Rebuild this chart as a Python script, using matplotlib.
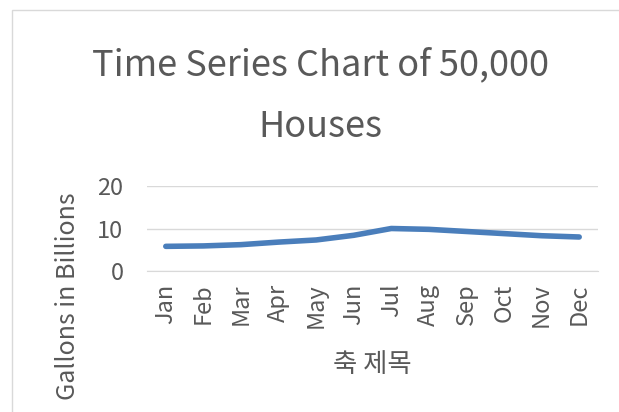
import matplotlib.pyplot as plt
from matplotlib.patches import Rectangle

plt.rcParams['font.family'] = ['Noto Sans CJK KR', 'DejaVu Sans']

months = ["Jan", "Feb", "Mar", "Apr", "May", "Jun",
          "Jul", "Aug", "Sep", "Oct", "Nov", "Dec"]
gallons = [5.8, 5.9, 6.2, 6.8, 7.3, 8.4, 10.0, 9.8, 9.3, 8.8, 8.3, 8.0]
yticks = [0, 10, 20]

text_color = "#595959"
grid_color = "#d9d9d9"
line_color = "#4a7ebb"

fig = plt.figure(figsize=(6.19, 4.12), dpi=100)
W, H = 619, 412

# chart area border (cropped on right / bottom)
fig.patches.append(Rectangle((12 / W, -0.1), 1.2, 1 - 10 / H + 0.1,
                             transform=fig.transFigure, fill=False,
                             edgecolor="#d9d9d9", linewidth=1))

ax = fig.add_axes([147 / W, 1 - 271 / H, (598 - 147) / W, (271 - 186) / H])
x = list(range(len(months)))
ax.plot(x, gallons, color=line_color, linewidth=4, solid_capstyle="round",
        solid_joinstyle="round", zorder=3)

ax.set_xlim(-0.5, len(months) - 0.5)
ax.set_ylim(0, 20)
ax.set_yticks(yticks)
ax.set_xticks(x)
ax.set_xticklabels(months, rotation=90)
ax.tick_params(axis="both", length=0, labelsize=17, colors=text_color)
ax.tick_params(axis="y", pad=17)
ax.tick_params(axis="x", pad=9)
ax.grid(axis="y", color=grid_color, linewidth=1)
ax.set_axisbelow(True)
for s in ["top", "right", "left"]:
    ax.spines[s].set_visible(False)
ax.spines["bottom"].set_color(grid_color)

fig.text(320 / W, 1 - 65 / H, "Time Series Chart of 50,000", ha="center",
         va="center", fontsize=26, color=text_color, fontweight="light")
fig.text(320 / W, 1 - 127 / H, "Houses", ha="center", va="center",
         fontsize=26, color=text_color, fontweight="light")
fig.text(68 / W, 1 - 296 / H, "Gallons in Billions", rotation=90,
         ha="center", va="center", fontsize=18, color=text_color)
fig.text(372 / W, 1 - 365 / H, "축 제목", ha="center", va="center",
         fontsize=19, color=text_color)

fig.savefig("out.png", dpi=100)
plt.close()
